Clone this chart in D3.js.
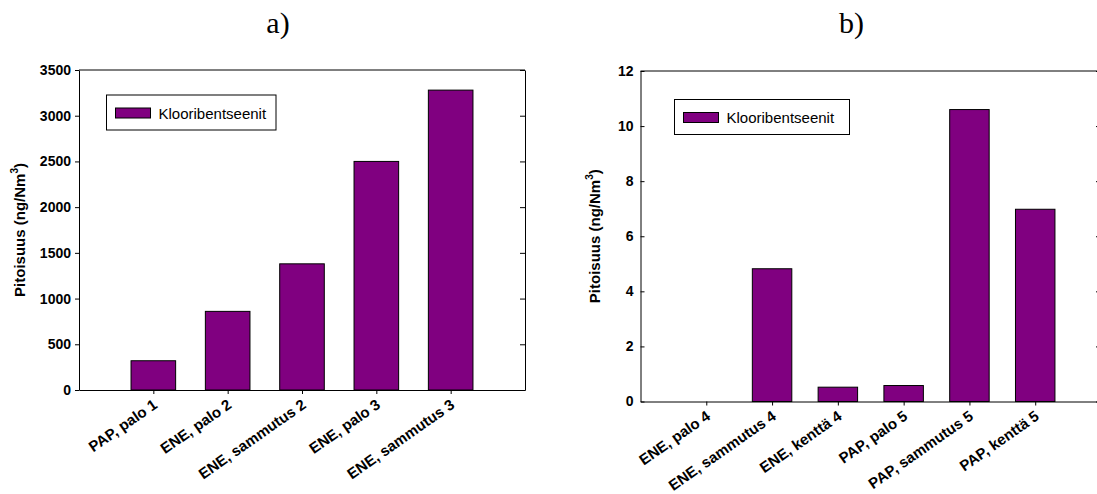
<!DOCTYPE html>
<html>
<head>
<meta charset="utf-8">
<script src="https://cdn.jsdelivr.net/npm/d3@7"></script>
<style>
    body { margin: 0; background: #fff; }
    svg { display: block; }
</style>
</head>
<body>
<script>
// Values
const categoriesA = ['PAP, palo 1', 'ENE, palo 2', 'ENE, sammutus 2', 'ENE, palo 3', 'ENE, sammutus 3'];
const valuesA = [320, 860, 1380, 2500, 3280];
const yTicksA = [0, 500, 1000, 1500, 2000, 2500, 3000, 3500];

const categoriesB = ['ENE, palo 4', 'ENE, sammutus 4', 'ENE, kenttä 4', 'PAP, palo 5', 'PAP, sammutus 5', 'PAP, kenttä 5'];
const valuesB = [0, 4.82, 0.52, 0.58, 10.6, 6.98];
const yTicksB = [0, 2, 4, 6, 8, 10, 12];

const seriesName = 'Klooribentseenit';
const yLabel = 'Pitoisuus (ng/Nm';
const yLabelSup = '3';
const titles = ['a)', 'b)'];

const barColor = '#800080';
const sansFont = '"Liberation Sans", Arial, sans-serif';
const serifFont = '"Liberation Serif", "Times New Roman", serif';

const svg = d3.select('body').append('svg')
    .attr('width', 1097)
    .attr('height', 494);

function drawPanel(o) {
    const g = svg.append('g');

    const x = d3.scalePoint()
        .domain(o.categories)
        .range([o.left, o.right])
        .padding(1);

    const y = d3.scaleLinear()
        .domain([0, d3.max(o.ticks)])
        .range([o.bottom, o.top]);

    const bw = x.step() * 0.6;

    // Title
    g.append('text')
        .attr('x', o.titleX)
        .attr('y', 33)
        .attr('text-anchor', 'middle')
        .style('font-family', serifFont)
        .style('font-size', '30px')
        .text(o.title);

    // Bars
    g.selectAll('rect.bar')
        .data(o.values)
        .join('rect')
        .attr('class', 'bar')
        .attr('x', (d, i) => x(o.categories[i]) - bw / 2)
        .attr('width', bw)
        .attr('y', d => y(d))
        .attr('height', d => o.bottom - y(d))
        .attr('fill', barColor)
        .attr('stroke', '#000')
        .attr('stroke-width', 1);

    // Left axis
    const left = g.append('g')
        .attr('transform', `translate(${o.left},0)`)
        .call(d3.axisLeft(y)
            .tickValues(o.ticks)
            .tickFormat(d3.format('d'))
            .tickSize(o.tickIn ? -4 : 4)
            .tickSizeOuter(0)
            .tickPadding(o.tickIn ? 7 : 4));
    left.selectAll('text')
        .style('font-family', sansFont)
        .style('font-size', '14px')
        .style('font-weight', 'bold')
        .attr('fill', '#000');

    // Right axis (ticks only, pointing in)
    g.append('g')
        .attr('transform', `translate(${o.right},0)`)
        .call(d3.axisLeft(y)
            .tickValues(o.ticks)
            .tickSize(5)
            .tickSizeOuter(0)
            .tickFormat(''));

    // Top frame line
    g.append('line')
        .attr('x1', o.left)
        .attr('x2', o.right)
        .attr('y1', o.top)
        .attr('y2', o.top)
        .attr('stroke', '#000');

    // Bottom axis with rotated labels
    const bottom = g.append('g')
        .attr('transform', `translate(0,${o.bottom})`)
        .call(d3.axisBottom(x)
            .tickSize(4)
            .tickSizeOuter(0)
            .tickFormat(''));
    bottom.selectAll('text').remove();

    g.selectAll('text.xlab')
        .data(o.categories)
        .join('text')
        .attr('class', 'xlab')
        .attr('transform', d => `translate(${x(d) + 5},${o.bottom + 17}) rotate(-35)`)
        .attr('text-anchor', 'end')
        .style('font-family', sansFont)
        .style('font-size', '15px')
        .style('font-weight', 'bold')
        .text(d => d);

    // Y axis label
    const yl = g.append('text')
        .attr('transform', `translate(${o.labelX},${(o.top + o.bottom) / 2}) rotate(-90)`)
        .attr('text-anchor', 'middle')
        .style('font-family', sansFont)
        .style('font-size', '15px')
        .style('font-weight', 'bold');
    yl.append('tspan').text(yLabel);
    yl.append('tspan')
        .attr('dy', -7)
        .style('font-size', '10px')
        .text(yLabelSup);
    yl.append('tspan')
        .attr('dy', 7)
        .text(')');

    // Legend
    const lg = g.append('g')
        .attr('transform', `translate(${o.legend[0]},${o.legend[1]})`);
    lg.append('rect')
        .attr('width', o.legend[2])
        .attr('height', 35)
        .attr('fill', '#fff')
        .attr('stroke', '#000');
    lg.append('rect')
        .attr('x', 9)
        .attr('y', 13)
        .attr('width', 35)
        .attr('height', 10)
        .attr('fill', barColor)
        .attr('stroke', '#000');
    lg.append('text')
        .attr('x', 52)
        .attr('y', 23.5)
        .style('font-family', sansFont)
        .style('font-size', '15px')
        .text(seriesName);

    g.selectAll('.domain, .tick line').attr('stroke', '#000');
}

drawPanel({
    title: titles[0], titleX: 278,
    categories: categoriesA, values: valuesA, ticks: yTicksA,
    left: 79, right: 525, top: 70, bottom: 390,
    labelX: 25, tickIn: false,
    legend: [106.5, 95, 169.5]
});

drawPanel({
    title: titles[1], titleX: 851.5,
    categories: categoriesB, values: valuesB, ticks: yTicksB,
    left: 640.5, right: 1101, top: 71, bottom: 401.5,
    labelX: 600, tickIn: true,
    legend: [674.5, 99.5, 175]
});
</script>
</body>
</html>
